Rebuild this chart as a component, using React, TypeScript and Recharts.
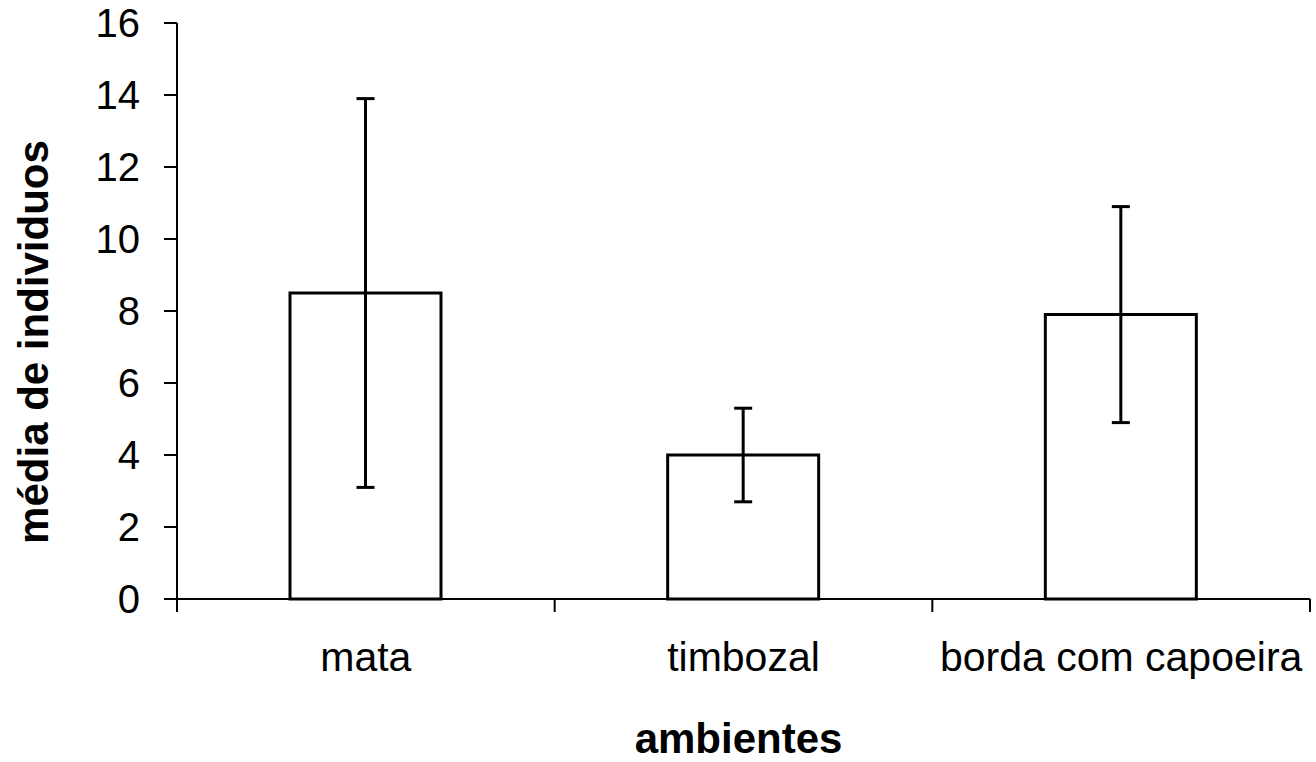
import React from 'react';
import { BarChart, Bar, XAxis, YAxis, ErrorBar } from 'recharts';

// Dados
const categorias = ['mata', 'timbozal', 'borda com capoeira'];
const medias = [8.5, 4.0, 7.9];
const erros = [5.4, 1.3, 3.0];
const ticksY = [0, 2, 4, 6, 8, 10, 12, 14, 16];

const dados = categorias.map((ambiente, i) => ({
  ambiente,
  media: medias[i],
  erro: erros[i],
}));

const fonte = '"Liberation Sans", Arial, sans-serif';
const TICK_X = 11;
const MARGEM_X = 32;

// Rótulo de categoria + marcas nos limites da categoria (estilo Excel)
const TickCategoria = (props: any) => {
  const { x, y, payload, index, visibleTicksCount, width } = props;
  const meio =
    payload && payload.offset ? payload.offset : width / visibleTicksCount / 2;
  const y0 = y - TICK_X - MARGEM_X;
  const ultimo = index === visibleTicksCount - 1;
  return (
    <g>
      <line x1={x - meio} y1={y0} x2={x - meio} y2={y0 + 13} stroke="#000" strokeWidth={2} />
      {ultimo && (
        <line x1={x + meio} y1={y0} x2={x + meio} y2={y0 + 13} stroke="#000" strokeWidth={2} />
      )}
      <text
        x={x}
        y={y}
        dy="0.71em"
        textAnchor="middle"
        fontFamily={fonte}
        fontSize={41}
        fill="#000"
      >
        {payload.value}
      </text>
    </g>
  );
};

// Rótulo vertical do eixo Y
const RotuloY = (props: any) => {
  const { viewBox } = props;
  const cx = viewBox.x + 33;
  const cy = viewBox.y + viewBox.height / 2 + 31;
  return (
    <text
      x={cx}
      y={cy}
      transform={`rotate(-90, ${cx}, ${cy})`}
      textAnchor="middle"
      dominantBaseline="central"
      fontFamily={fonte}
      fontWeight={700}
      fontSize={42}
      fill="#000"
    >
      média de individuos
    </text>
  );
};

// Rótulo do eixo X
const RotuloX = (props: any) => {
  const { viewBox } = props;
  return (
    <text
      x={viewBox.x + viewBox.width / 2 - 5}
      y={753}
      textAnchor="middle"
      fontFamily={fonte}
      fontWeight={700}
      fontSize={42}
      fill="#000"
    >
      ambientes
    </text>
  );
};

const App: React.FC = () => {
  return (
    <div style={{ position: 'absolute', left: 0, top: 0, background: '#fff' }}>
      <BarChart
        width={1316}
        height={762}
        data={dados}
        margin={{ top: 23, right: 6, bottom: 53, left: 0 }}
      >
        <XAxis
          dataKey="ambiente"
          height={110}
          axisLine={{ stroke: '#000', strokeWidth: 2 }}
          tickLine={false}
          tickSize={TICK_X}
          tickMargin={MARGEM_X}
          tick={TickCategoria}
          interval={0}
          label={{ content: RotuloX }}
        />
        <YAxis
          width={177}
          domain={[0, 16]}
          ticks={ticksY}
          interval={0}
          axisLine={{ stroke: '#000', strokeWidth: 2 }}
          tickLine={{ stroke: '#000', strokeWidth: 2 }}
          tickSize={13}
          tickMargin={24}
          tick={{ fill: '#000', fontSize: 40, fontFamily: fonte }}
          label={{ content: RotuloY }}
        />
        <Bar
          dataKey="media"
          fill="#fff"
          stroke="#000"
          strokeWidth={3}
          barSize={151}
          isAnimationActive={false}
        >
          <ErrorBar
            dataKey="erro"
            direction="y"
            width={9}
            stroke="#000"
            strokeWidth={3}
            isAnimationActive={false}
          />
        </Bar>
      </BarChart>
    </div>
  );
};

export default App;
